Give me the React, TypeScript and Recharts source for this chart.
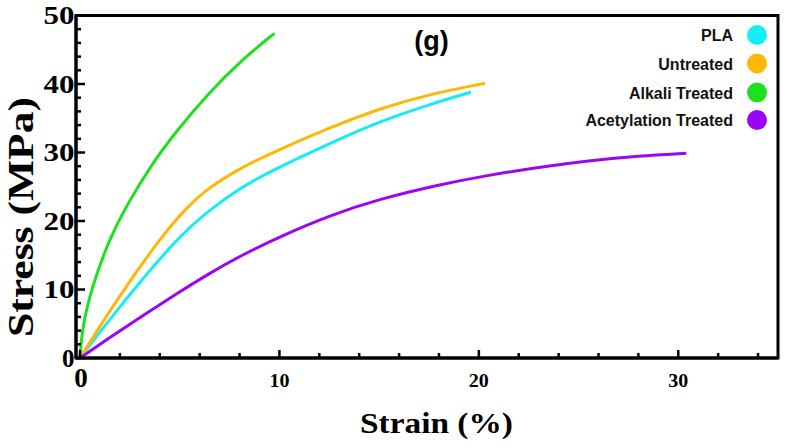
import React from "react";
import {
    LineChart,
    Line,
    XAxis,
    YAxis,
    ReferenceArea,
} from "recharts";

// strain (%) / stress (MPa)
const strainPLA = [0, 1.45, 3.1, 4.8, 6.45, 8.1, 9.5, 12.5, 15, 17.5, 19.6];
const stressPLA = [0, 5.5, 11.4, 17.2, 21.6, 24.9, 27.2, 31.3, 34.5, 37.0, 38.8];

const strainUntreated = [0, 1.1, 2.3, 3.95, 5.3, 6.45, 8.1, 9.5, 12.5, 15, 17.5, 20.3];
const stressUntreated = [0, 5.1, 10.4, 17.2, 21.85, 24.9, 27.8, 29.8, 33.6, 36.4, 38.5, 40.1];

const strainAlkali = [0, 0.12, 0.6, 1.45, 2.3, 3.6, 4.8, 6.45, 8.1, 9.75];
const stressAlkali = [0, 4.6, 10.4, 17.2, 22.1, 28.3, 33.0, 38.7, 43.5, 47.4];

const strainAcetyl = [0, 1.45, 3.1, 4.8, 6.45, 8.1, 10, 12.5, 15, 18, 20.5, 23, 25.5, 28, 30.4];
const stressAcetyl = [0, 2.9, 6.1, 9.3, 12.3, 15.0, 17.7, 20.8, 23.2, 25.3, 26.7, 27.85, 28.8, 29.5, 29.9];

const seriesNames = ["PLA", "Untreated", "Alkali Treated", "Acetylation Treated"];
const seriesColors = ["#12EEF4", "#FDB706", "#1EE01E", "#9A06F4"];

const xTicks = [0, 2, 4, 6, 8, 10, 12, 14, 16, 18, 20, 22, 24, 26, 28, 30, 32, 34];
const yTicks = [0, 2, 4, 6, 8, 10, 12, 14, 16, 18, 20, 22, 24, 26, 28, 30, 32, 34, 36, 38, 40, 42, 44, 46, 48, 50];

const toPoints = (xs: number[], ys: number[]) =>
    xs.map((x, i) => ({ x, y: ys[i] }));

const series = [
    toPoints(strainPLA, stressPLA),
    toPoints(strainUntreated, stressUntreated),
    toPoints(strainAlkali, stressAlkali),
    toPoints(strainAcetyl, stressAcetyl),
];

const serif = "'Liberation Serif', 'Times New Roman', serif";
const sans = "'Liberation Sans', Arial, sans-serif";

const XTick = (props: any) => {
    const { x, y, payload } = props;
    const v = payload.value;
    const major = v % 10 === 0;
    return (
        <g>
            <line x1={x} x2={x} y1={y} y2={y - (major ? 8 : 5)} stroke="#000" strokeWidth={2.5} />
            {major && v === 0 && (
                <text x={x + 1} y={y + 29} textAnchor="middle" fontFamily={serif} fontWeight="bold" fontSize={27} fill="#000">
                    0
                </text>
            )}
            {major && v !== 0 && (
                <text x={x} y={y + 28.5} textAnchor="middle" fontFamily={serif} fontWeight="bold" fontSize={18} textLength={20} lengthAdjust="spacingAndGlyphs" fill="#000">
                    {v}
                </text>
            )}
        </g>
    );
};

const YTick = (props: any) => {
    const { x, y, payload } = props;
    const v = payload.value;
    const major = v % 10 === 0;
    const label = String(v);
    return (
        <g>
            <line x1={x} x2={x + (major ? 9 : 5)} y1={y} y2={y} stroke="#000" strokeWidth={2.5} />
            {major && (
                <text
                    x={x - 1.5}
                    y={y + 8.5}
                    textAnchor="end"
                    fontFamily={serif}
                    fontWeight="bold"
                    fontSize={25}
                    fill="#000"
                    {...(label.length > 1 ? { textLength: 31, lengthAdjust: "spacingAndGlyphs" } : {})}
                >
                    {label}
                </text>
            )}
        </g>
    );
};

const legendRows = [35, 63.5, 92.5, 120];

export default function App() {
    return (
        <div style={{ position: "absolute", left: 0, top: 0, width: 785, height: 448, background: "#fff" }}>
            <LineChart
                width={785}
                height={448}
                margin={{ top: 15.5, right: 7, bottom: 50, left: 16 }}
            >
                <XAxis
                    dataKey="x"
                    type="number"
                    domain={[-0.2, 35]}
                    allowDataOverflow
                    ticks={xTicks}
                    interval={0}
                    height={40}
                    tickSize={0}
                    tickMargin={0}
                    tickLine={false}
                    axisLine={{ stroke: "#000", strokeWidth: 3 }}
                    tick={<XTick />}
                />
                <YAxis
                    dataKey="y"
                    type="number"
                    domain={[0, 50]}
                    allowDataOverflow
                    ticks={yTicks}
                    interval={0}
                    width={60}
                    tickSize={0}
                    tickMargin={0}
                    tickLine={false}
                    axisLine={{ stroke: "#000", strokeWidth: 3 }}
                    tick={<YTick />}
                />
                <ReferenceArea
                    x1={-0.2}
                    x2={35}
                    y1={0}
                    y2={50}
                    fill="none"
                    fillOpacity={0}
                    stroke="#000"
                    strokeWidth={3}
                    strokeOpacity={1}
                />
                {series.map((pts, i) => (
                    <Line
                        key={seriesNames[i]}
                        data={pts}
                        dataKey="y"
                        name={seriesNames[i]}
                        type="basis"
                        stroke={seriesColors[i]}
                        strokeWidth={3}
                        dot={false}
                        activeDot={false}
                        isAnimationActive={false}
                    />
                ))}
            </LineChart>
            <svg
                width={785}
                height={448}
                style={{ position: "absolute", left: 0, top: 0, pointerEvents: "none" }}
            >
                <text x={431.5} y={49.5} textAnchor="middle" fontFamily={sans} fontWeight="bold" fontSize={27} fill="#000">
                    (g)
                </text>
                <text
                    x={33}
                    y={217}
                    transform="rotate(-90 33 217)"
                    textAnchor="middle"
                    fontFamily={serif}
                    fontWeight="bold"
                    fontSize={36}
                    textLength={240}
                    lengthAdjust="spacingAndGlyphs"
                    fill="#000"
                >
                    Stress (MPa)
                </text>
                <text
                    x={436.5}
                    y={432.5}
                    textAnchor="middle"
                    fontFamily={serif}
                    fontWeight="bold"
                    fontSize={30}
                    textLength={153}
                    lengthAdjust="spacingAndGlyphs"
                    fill="#000"
                >
                    Strain (%)
                </text>
                {seriesNames.map((name, i) => (
                    <g key={name}>
                        <text x={733} y={legendRows[i] + 6} textAnchor="end" fontFamily={sans} fontWeight="bold" fontSize={16} fill="#111">
                            {name}
                        </text>
                        <circle cx={757} cy={legendRows[i]} r={10} fill={seriesColors[i]} />
                    </g>
                ))}
            </svg>
        </div>
    );
}
